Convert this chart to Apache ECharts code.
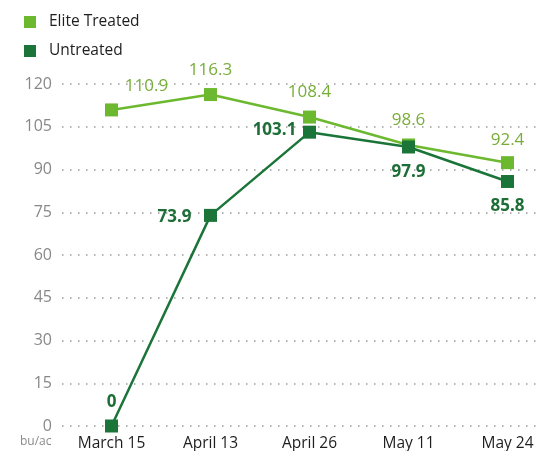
<!DOCTYPE html>
<html>
<head>
<meta charset="utf-8">
<script src="https://cdn.jsdelivr.net/npm/echarts@6/dist/echarts.min.js"></script>
<style>html,body{margin:0;padding:0;background:#fff}#c{width:541px;height:451px}</style>
</head>
<body>
<div id="c"></div>
<script>
var categories = ['March 15', 'April 13', 'April 26', 'May 11', 'May 24'];
var eliteTreated = [110.9, 116.3, 108.4, 98.6, 92.4];
var untreated = [0, 73.9, 103.1, 97.9, 85.8];
var yTicks = [0, 15, 30, 45, 60, 75, 90, 105, 120];

var eliteOffsets = [[35, -24], [0, -24], [0, -25], [0, -25], [0, -23]];
var untreatedOffsets = [[0, -24], [-36, 2], [-35, -2], [0, 25], [0, 25]];

var light = '#6cb92f';
var lightText = '#77ad38';
var dark = '#1b7538';
var darkText = '#1d6e37';
var font = '"Open Sans", "DejaVu Sans", sans-serif';

function build(values, offsets) {
  return values.map(function (v, i) {
    return { value: v, label: { offset: offsets[i] } };
  });
}

var chart = echarts.init(document.getElementById('c'));
chart.setOption({
  animation: false,
  textStyle: { fontFamily: font },
  legend: {
    orient: 'vertical', left: 19, top: 9, itemWidth: 12, itemHeight: 12, itemGap: 13,
    icon: 'rect',
    textStyle: { fontSize: 15.5, color: '#1e1e1e', fontFamily: font, padding: [0, 0, 0, 8] },
    data: ['Elite Treated', 'Untreated']
  },
  grid: { left: 62, top: 84, width: 495, bottom: 25, containLabel: false, outerBoundsMode: 'none' },
  xAxis: {
    type: 'category', data: categories, boundaryGap: true,
    axisLine: { show: false }, axisTick: { show: false },
    axisLabel: { color: '#1e1e1e', fontSize: 15.5, margin: 10, fontFamily: font }
  },
  yAxis: {
    type: 'value', min: 0, max: 120, interval: 15,
    axisLine: { show: false }, axisTick: { show: false },
    axisLabel: { color: '#888', fontSize: 16, margin: 10, fontFamily: font,
      formatter: function (v) { return yTicks.indexOf(v) >= 0 ? String(v) : ''; } },
    splitLine: { lineStyle: { color: '#9a9a9a', width: 1.5, type: [1.5, 6.5] } }
  },
  graphic: [{
    type: 'text', left: 20, top: 436,
    style: { text: 'bu/ac', fill: '#8a8a8a', font: '12px ' + font }
  }],
  series: [{
    name: 'Elite Treated', type: 'line', data: build(eliteTreated, eliteOffsets),
    symbol: 'rect', symbolSize: 13,
    itemStyle: { color: light }, lineStyle: { color: light, width: 2.5 },
    label: { show: true, position: 'inside', color: lightText, fontSize: 17, fontFamily: font }
  }, {
    name: 'Untreated', type: 'line', data: build(untreated, untreatedOffsets),
    symbol: 'rect', symbolSize: 13,
    itemStyle: { color: dark }, lineStyle: { color: dark, width: 2.5 },
    label: { show: true, position: 'inside', color: darkText, fontSize: 17, fontWeight: 'bold', fontFamily: font }
  }]
});
</script>
</body>
</html>
